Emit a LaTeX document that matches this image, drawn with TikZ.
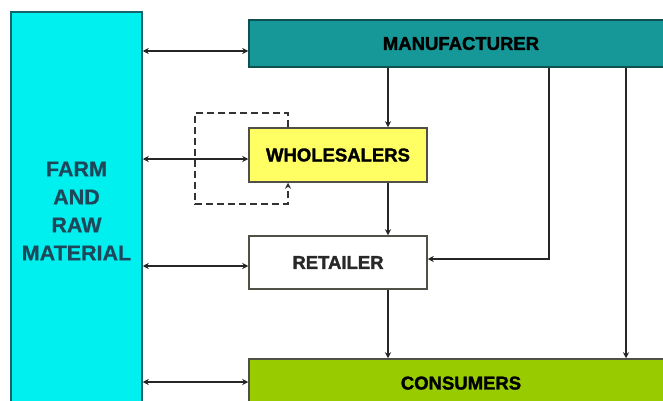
\documentclass[tikz,border=0pt]{standalone}
\usepackage{fontspec}
\setmainfont{Liberation Sans}
\newfontfamily\heavyfont[FakeBold=1.6]{Liberation Sans Bold}
\newfontfamily\farmfont[FakeBold=0.6]{Liberation Sans Bold}
\usetikzlibrary{arrows.meta}
\definecolor{farmfill}{RGB}{0,240,240}
\definecolor{farmline}{RGB}{20,100,110}
\definecolor{farmtext}{RGB}{30,72,90}
\definecolor{manfill}{RGB}{23,152,152}
\definecolor{manline}{RGB}{15,80,80}
\definecolor{whfill}{RGB}{255,255,100}
\definecolor{boxline}{RGB}{80,80,70}
\definecolor{confill}{RGB}{153,204,0}
\definecolor{retext}{RGB}{40,40,40}
\tikzset{
  box/.style={draw=boxline, line width=1.5pt, rectangle, inner sep=0pt,
    font=\fontsize{18.5}{20}\heavyfont},
  conn/.style={line width=1.6pt, draw=black!85, -{Stealth[length=6pt,width=6pt]}},
  biconn/.style={line width=1.6pt, draw=black!85, {Stealth[length=6pt,width=6pt]}-{Stealth[length=6pt,width=6pt]}},
  loopline/.style={line width=1.3pt, draw=black!80, dash pattern=on 7pt off 4pt, -{Stealth[length=6pt,width=6pt]}}
}
\begin{document}
\begin{tikzpicture}[x=1pt,y=-1pt]
\useasboundingbox (0,0) rectangle (663,401);
\clip (0,0) rectangle (663,401);
\fill[white] (0,0) rectangle (663,401);
\node[box, draw=farmline, fill=farmfill, minimum width=131pt, minimum height=398pt,
  text=farmtext, align=center, font=\fontsize{21.5}{28}\farmfont]
  (farm) at (76.5,211) {FARM\\AND\\RAW\\MATERIAL};
\node[box, draw=manline, fill=manfill, minimum width=421pt, minimum height=47pt]
  (man) at (459.5,43.5) {\hspace{3pt}MANUFACTURER};
\node[box, fill=whfill, minimum width=178pt, minimum height=54pt]
  (whole) at (338,155) {WHOLESALERS};
\node[box, fill=white, text=retext, minimum width=178pt, minimum height=53pt]
  (ret) at (338,262.5) {RETAILER};
\node[box, fill=confill, minimum width=421pt, minimum height=51pt]
  (con) at (459.5,384.5) {\raisebox{3pt}{\hspace{3pt}CONSUMERS}};
% double arrows from farm
\draw[biconn] (farm.east |- 0,51) -- (man.west |- 0,51);
\draw[biconn] (farm.east |- 0,159) -- (whole.west |- 0,159);
\draw[biconn] (farm.east |- 0,266) -- (ret.west |- 0,266);
\draw[biconn] (farm.east |- 0,382) -- (con.west |- 0,382);
% vertical chain
\draw[conn] (man.south -| 388,0) -- (whole.north -| 388,0);
\draw[conn] (whole.south -| 388,0) -- (ret.north -| 388,0);
\draw[conn] (ret.south -| 388,0) -- (con.north -| 388,0);
% manufacturer to retailer and consumers
\coordinate (mr) at (549,259);
\draw[conn] (man.south -| mr) -- (mr) -- (ret.east |- mr);
\coordinate (mc) at (626,200);
\draw[conn] (man.south -| mc) -- (con.north -| mc);
% dashed loop on wholesalers
\coordinate (lt) at (195,113);
\coordinate (lb) at (195,204);
\draw[loopline] (whole.north -| 288,0) -- (288,113) -- (lt) -- (lb) -- (288,204) -- (whole.south -| 288,0);
\end{tikzpicture}
\end{document}
